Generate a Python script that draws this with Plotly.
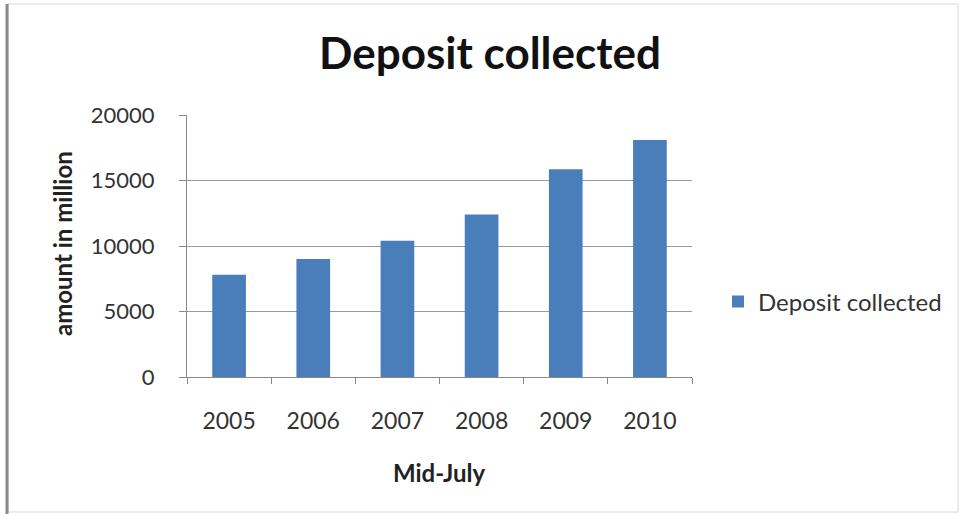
import plotly.graph_objects as go

years = ["2005", "2006", "2007", "2008", "2009", "2010"]
deposits = [7800, 9000, 10400, 12400, 15850, 18100]
series_name = "Deposit collected"
title_text = "Deposit collected"
x_title = "Mid-July"
y_title = "amount in million"
y_ticks = [0, 5000, 10000, 15000, 20000]
y_ticklabels = ["0", "5000", "10000", "15000", "20000"]

W, H = 961, 517
L, R, T, B = 187, 269, 115, 140
pw, ph = W - L - R, H - T - B

FONT = "Lato, 'Open Sans', sans-serif"

fig = go.Figure()
fig.add_trace(go.Bar(x=years, y=deposits, name=series_name,
                     marker=dict(color="#4A7EBB", line=dict(width=0)),
                     showlegend=True))

def px_x(x):
    return (x - L) / pw

def px_y(y):
    return (H - B - y) / ph

fig.update_layout(
    width=W, height=H,
    margin=dict(l=L, r=R, t=T, b=B, autoexpand=False),
    paper_bgcolor="white", plot_bgcolor="white",
    bargap=0.6,
    font=dict(family=FONT, color="#222222"),
    title=dict(text="<b>" + title_text + "</b>", xref="container", x=490 / W,
               xanchor="center", yref="container", y=1 - 54 / H, yanchor="middle",
               font=dict(size=44, color="#111111", family=FONT)),
    xaxis=dict(type="category", showgrid=False, showline=True, linecolor="#888888",
               linewidth=1, ticks="outside", ticklen=6, tickcolor="#888888",
               tickson="boundaries", ticklabelstandoff=23,
               tickfont=dict(size=23, color="#333333"), fixedrange=True),
    yaxis=dict(range=[0, 20000], tickvals=y_ticks, ticktext=y_ticklabels,
               showgrid=True, gridcolor="#9a9a9a",
               gridwidth=1, showline=True, linecolor="#888888", linewidth=1,
               ticks="outside", ticklen=7, tickcolor="#888888", ticklabelstandoff=20,
               tickfont=dict(size=22, color="#333333"), zeroline=False, fixedrange=True),
    legend=dict(x=px_x(718), xanchor="left", y=px_y(302), yanchor="middle",
                font=dict(size=24, color="#333333"), bgcolor="rgba(0,0,0,0)",
                itemwidth=30),
    annotations=[
        dict(text="<b>" + x_title + "</b>", xref="paper", yref="paper",
             x=px_x(439), y=px_y(472), xanchor="center", yanchor="middle",
             showarrow=False, font=dict(size=24, color="#222222")),
        dict(text="<b>" + y_title + "</b>", xref="paper", yref="paper",
             x=px_x(62), y=px_y(244), xanchor="center", yanchor="middle",
             textangle=-90, showarrow=False, font=dict(size=24, color="#222222")),
    ],
    shapes=[
        dict(type="rect", xref="paper", yref="paper",
             x0=px_x(8), x1=px_x(958), y0=px_y(512), y1=px_y(4),
             line=dict(color="#d8d8d8", width=1)),
        dict(type="line", xref="paper", yref="paper",
             x0=px_x(7), x1=px_x(7), y0=px_y(514), y1=px_y(4),
             line=dict(color="#8a8a8a", width=3)),
    ],
)

fig.write_html("out.html")
